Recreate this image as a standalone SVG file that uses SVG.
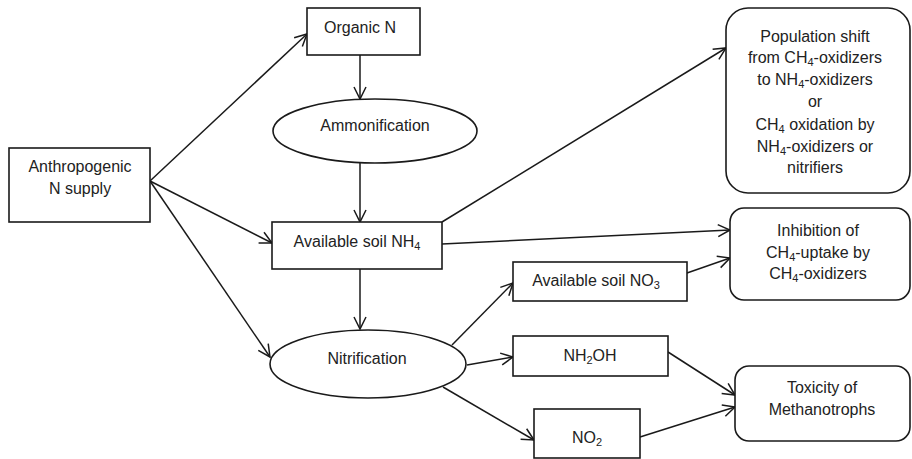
<svg xmlns="http://www.w3.org/2000/svg" width="912" height="459" viewBox="0 0 912 459">
<style>
.b{fill:#fff;stroke:#1a1a1a;stroke-width:1.6}
.t{font-family:"Liberation Sans",Arial,sans-serif;font-size:16px;fill:#222;text-anchor:middle}
.s{font-size:11px}
.c{fill:none;stroke:#1a1a1a;stroke-width:1.5}
</style>
<defs>
<marker id="a" markerUnits="userSpaceOnUse" markerWidth="16" markerHeight="16" viewBox="0 0 16 16" refX="14" refY="8" orient="auto">
<path d="M2,2 L14,8 L2,14" fill="none" stroke="#1a1a1a" stroke-width="1.5"/>
</marker>
</defs>
<g id="connectors" class="c" marker-end="url(#a)">
<line x1="150" y1="181" x2="307" y2="34"/>
<line x1="150" y1="181" x2="272" y2="243"/>
<line x1="150" y1="181" x2="270" y2="357"/>
<line x1="360" y1="55" x2="360" y2="99"/>
<line x1="360" y1="163" x2="360" y2="222"/>
<line x1="360" y1="269" x2="360" y2="329"/>
<line x1="442" y1="222" x2="726" y2="48"/>
<line x1="442" y1="244" x2="730" y2="230"/>
<line x1="687" y1="273" x2="730" y2="258"/>
<line x1="452" y1="345" x2="513" y2="283"/>
<line x1="467" y1="365" x2="513" y2="357"/>
<line x1="443" y1="387" x2="534" y2="440"/>
<line x1="668" y1="352" x2="735" y2="395"/>
<line x1="640" y1="437" x2="735" y2="407"/>
</g>
<g id="anthropogenic">
<rect class="b" x="9" y="148" width="141" height="74"/>
<text class="t" x="80" y="172">Anthropogenic</text>
<text class="t" x="80" y="194">N supply</text>
</g>
<g id="organic">
<rect class="b" x="307" y="8" width="113" height="47"/>
<text class="t" x="360" y="33">Organic N</text>
</g>
<g id="ammonification">
<ellipse class="b" cx="375" cy="131" rx="102" ry="32"/>
<text class="t" x="375" y="131">Ammonification</text>
</g>
<g id="nh4">
<rect class="b" x="272" y="222" width="170" height="47"/>
<text class="t" x="357" y="247">Available soil NH<tspan class="s" dy="3">4</tspan></text>
</g>
<g id="nitrification">
<ellipse class="b" cx="368" cy="364" rx="98" ry="34"/>
<text class="t" x="367" y="364">Nitrification</text>
</g>
<g id="population">
<rect class="b" x="726" y="8" width="184" height="185" rx="22"/>
<text class="t" x="815" y="42">Population shift</text>
<text class="t" x="815" y="63">from CH<tspan class="s" dy="3">4</tspan><tspan dy="-3">-oxidizers</tspan></text>
<text class="t" x="815" y="85">to NH<tspan class="s" dy="3">4</tspan><tspan dy="-3">-oxidizers</tspan></text>
<text class="t" x="815" y="107">or</text>
<text class="t" x="815" y="130">CH<tspan class="s" dy="3">4</tspan><tspan dy="-3"> oxidation by</tspan></text>
<text class="t" x="815" y="152">NH<tspan class="s" dy="3">4</tspan><tspan dy="-3">-oxidizers or</tspan></text>
<text class="t" x="815" y="173">nitrifiers</text>
</g>
<g id="inhibition">
<rect class="b" x="730" y="208" width="180" height="92" rx="14"/>
<text class="t" x="818" y="236">Inhibition of</text>
<text class="t" x="818" y="258">CH<tspan class="s" dy="3">4</tspan><tspan dy="-3">-uptake by</tspan></text>
<text class="t" x="818" y="279">CH<tspan class="s" dy="3">4</tspan><tspan dy="-3">-oxidizers</tspan></text>
</g>
<g id="no3">
<rect class="b" x="513" y="262" width="174" height="39"/>
<text class="t" x="596" y="286">Available soil NO<tspan class="s" dy="3">3</tspan></text>
</g>
<g id="nh2oh">
<rect class="b" x="513" y="336" width="155" height="40"/>
<text class="t" x="590" y="361">NH<tspan class="s" dy="3">2</tspan><tspan dy="-3">OH</tspan></text>
</g>
<g id="no2">
<rect class="b" x="534" y="409" width="106" height="49"/>
<text class="t" x="587" y="443">NO<tspan class="s" dy="3">2</tspan></text>
</g>
<g id="toxicity">
<rect class="b" x="735" y="366" width="175" height="75" rx="14"/>
<text class="t" x="822" y="393">Toxicity of</text>
<text class="t" x="822" y="415">Methanotrophs</text>
</g>
</svg>
